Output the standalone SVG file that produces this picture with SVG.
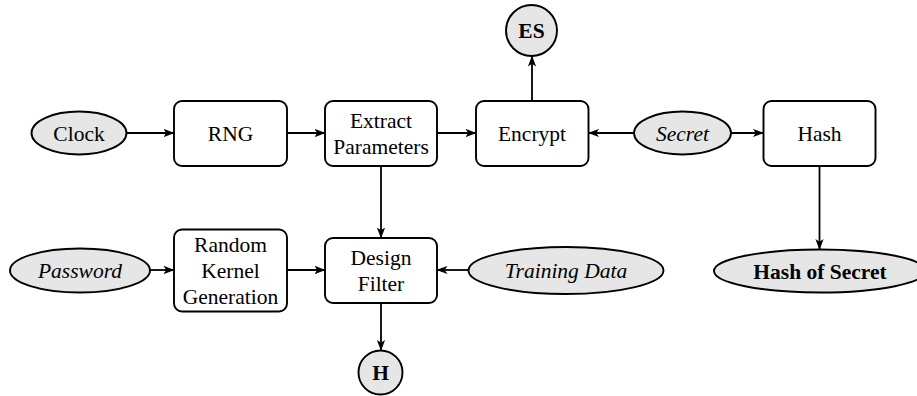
<svg xmlns="http://www.w3.org/2000/svg" width="917" height="396" viewBox="0 0 917 396">
  <style>
    .box { fill: #ffffff; stroke: #000000; stroke-width: 1.9; }
    .term { fill: #e6e6e6; stroke: #000000; stroke-width: 1.9; }
    .lbl { font-family: 'Liberation Serif', 'DejaVu Serif', serif; font-size: 21.5px; fill: #000000; text-anchor: middle; }
    .it { font-style: italic; }
    .bf { font-weight: bold; }
    .edge { fill: none; stroke: #000000; stroke-width: 1.8; marker-end: url(#arrow); }
  </style>
  <defs>
    <marker id="arrow" viewBox="0 0 11 9" refX="10.5" refY="4.5" markerWidth="11" markerHeight="9" markerUnits="userSpaceOnUse" orient="auto">
      <path d="M0,0.4 L11,4.5 L0,8.6 L2.8,4.5 Z" fill="#000000"/>
    </marker>
  </defs>

  <rect width="917" height="396" fill="#ffffff"/>

  <!-- connectors -->
  <g id="connectors">
    <line class="edge" x1="127" y1="133" x2="174" y2="133"/>
    <line class="edge" x1="287" y1="133" x2="325" y2="133"/>
    <line class="edge" x1="437" y1="133" x2="476" y2="133"/>
    <line class="edge" x1="532" y1="101" x2="532" y2="56"/>
    <line class="edge" x1="634" y1="133" x2="588.5" y2="133"/>
    <line class="edge" x1="731" y1="133" x2="763.5" y2="133"/>
    <line class="edge" x1="819.5" y1="166" x2="819.5" y2="249.5"/>
    <line class="edge" x1="381" y1="166" x2="381" y2="238"/>
    <line class="edge" x1="150" y1="270" x2="174" y2="270"/>
    <line class="edge" x1="287" y1="270" x2="325" y2="270"/>
    <line class="edge" x1="468.5" y1="270" x2="437" y2="270"/>
    <line class="edge" x1="381" y1="303" x2="381" y2="350.5"/>
  </g>

  <!-- top row -->
  <g id="clock">
    <ellipse class="term" cx="79" cy="133" rx="47.5" ry="21.5"/>
    <text class="lbl" x="79" y="140.5">Clock</text>
  </g>
  <g id="rng">
    <rect class="box" x="174" y="101" width="113" height="65" rx="8"/>
    <text class="lbl" x="230.5" y="140.5">RNG</text>
  </g>
  <g id="extract">
    <rect class="box" x="325" y="101" width="112" height="65" rx="8"/>
    <text class="lbl" x="381" y="127.5">Extract</text>
    <text class="lbl" x="381" y="153.5">Parameters</text>
  </g>
  <g id="encrypt">
    <rect class="box" x="476" y="101" width="112.5" height="65" rx="8"/>
    <text class="lbl" x="532" y="140.5">Encrypt</text>
  </g>
  <g id="es">
    <circle class="term" cx="531.5" cy="30.5" r="25.5"/>
    <text class="lbl bf" x="531.5" y="38">ES</text>
  </g>
  <g id="secret">
    <ellipse class="term" cx="682.5" cy="133" rx="48.5" ry="21.5"/>
    <text class="lbl it" x="682.5" y="140.5">Secret</text>
  </g>
  <g id="hash">
    <rect class="box" x="763.5" y="101" width="112" height="65" rx="8"/>
    <text class="lbl" x="819.5" y="140.5">Hash</text>
  </g>

  <!-- bottom row -->
  <g id="password">
    <ellipse class="term" cx="80" cy="270.5" rx="70" ry="22"/>
    <text class="lbl it" x="80" y="277.5">Password</text>
  </g>
  <g id="kernel">
    <rect class="box" x="174" y="229.5" width="113" height="82" rx="8"/>
    <text class="lbl" x="230.5" y="251.5">Random</text>
    <text class="lbl" x="230.5" y="277.5">Kernel</text>
    <text class="lbl" x="230.5" y="303.5">Generation</text>
  </g>
  <g id="design">
    <rect class="box" x="325" y="238" width="112" height="65" rx="8"/>
    <text class="lbl" x="381" y="264.5">Design</text>
    <text class="lbl" x="381" y="290.5">Filter</text>
  </g>
  <g id="training">
    <ellipse class="term" cx="566" cy="270.5" rx="97.5" ry="23.5"/>
    <text class="lbl it" x="566" y="277.5">Training Data</text>
  </g>
  <g id="hash-of-secret">
    <ellipse class="term" cx="820" cy="271" rx="106" ry="21.5"/>
    <text class="lbl bf" x="820" y="278.5">Hash of Secret</text>
  </g>
  <g id="h">
    <circle class="term" cx="380.5" cy="372.5" r="22"/>
    <text class="lbl bf" x="380.5" y="380">H</text>
  </g>
</svg>
